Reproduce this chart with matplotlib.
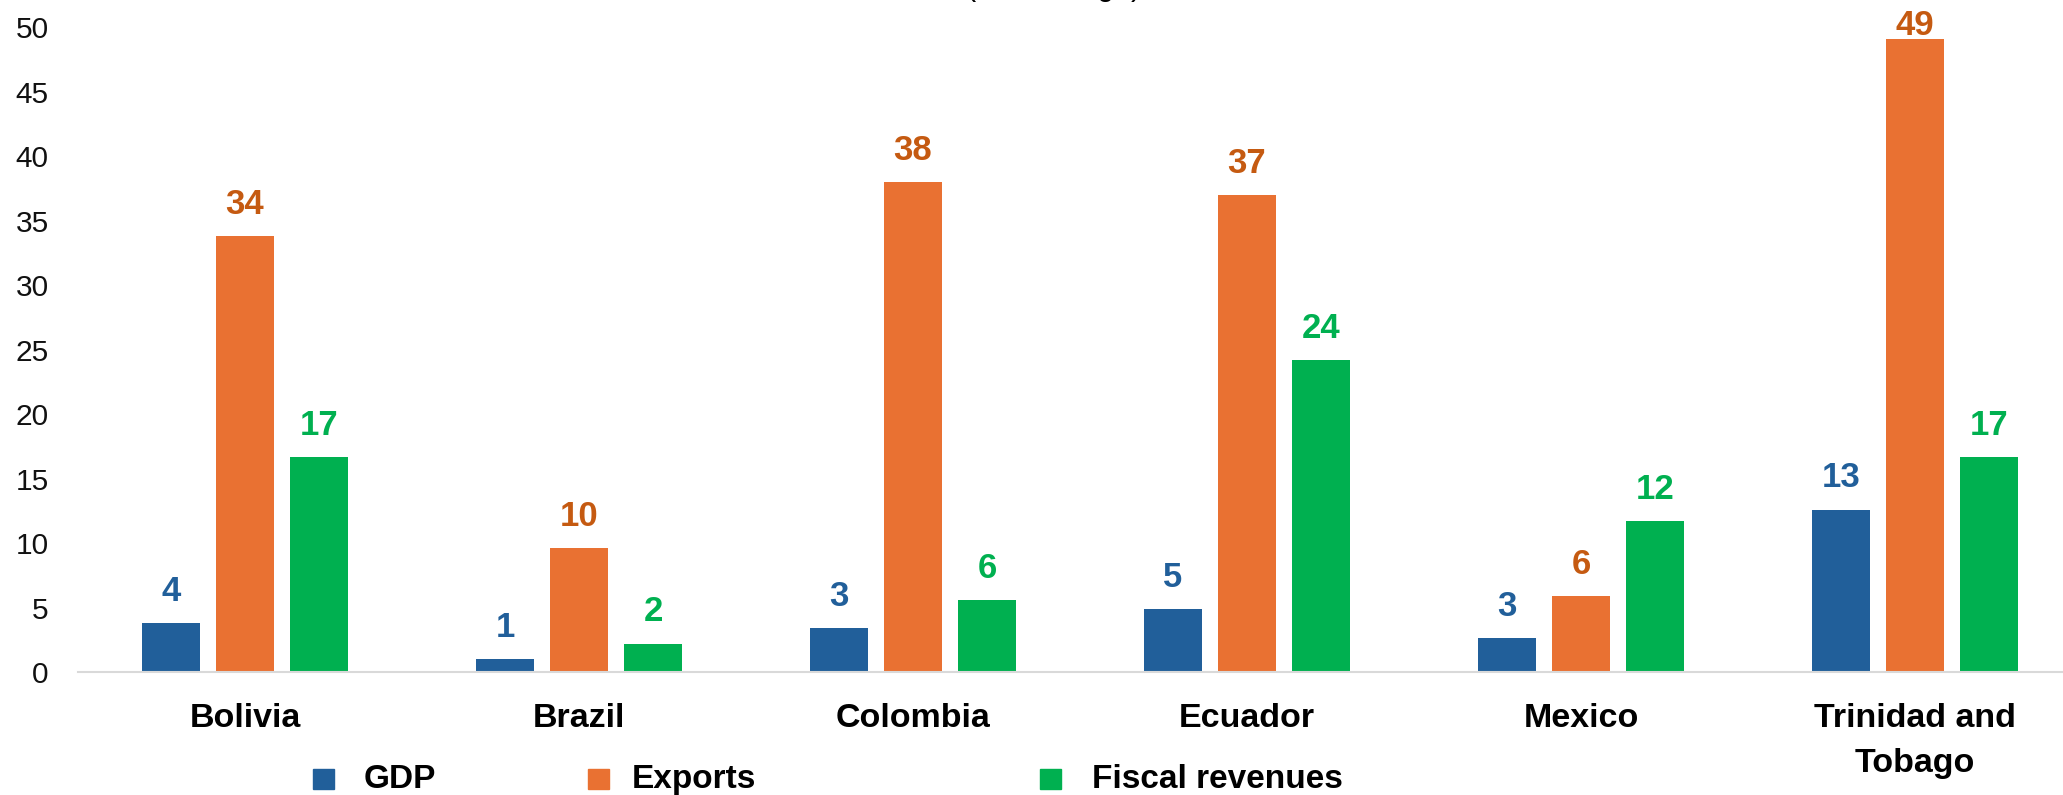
import matplotlib
matplotlib.use("Agg")
import matplotlib.pyplot as plt
import numpy as np
from matplotlib.patches import Rectangle

categories = ["Bolivia", "Brazil", "Colombia", "Ecuador", "Mexico", "Trinidad and\nTobago"]
series_names = ["GDP", "Exports", "Fiscal revenues"]
gdp = [3.8, 1.0, 3.4, 4.9, 2.6, 12.6]
exports = [33.8, 9.6, 38.0, 37.0, 5.9, 49.1]
fiscal = [16.7, 2.2, 5.6, 24.2, 11.7, 16.7]
yticks = [0, 5, 10, 15, 20, 25, 30, 35, 40, 45, 50]
title = "(Percentage)"

bar_colors = ["#215F9A", "#E97132", "#00B050"]
label_colors = ["#215F9A", "#C55A11", "#00B050"]

plt.rcParams['font.family'] = ['Liberation Sans', 'DejaVu Sans']

W, H = 2063, 795
fig = plt.figure(figsize=(W / 100, H / 100), dpi=100)
ax_bottom_px, ax_top_px = 672, 27.5
ax = fig.add_axes([78 / W, (H - ax_bottom_px) / H, 2004 / W, (ax_bottom_px - ax_top_px) / H])
ax.set_xlim(-0.5, len(categories) - 0.5)
ax.set_ylim(0, 50)
px_per_unit = (ax_bottom_px - ax_top_px) / 50.0
max_label_base = 49.45  # keep labels inside the picture (Excel-style clamping)

x = np.arange(len(categories))
width = 0.174
step = 0.2216
for i, (vals, c, lc) in enumerate(zip([gdp, exports, fiscal], bar_colors, label_colors)):
    xs = x + (i - 1) * step
    ax.bar(xs, vals, width=width, color=c, zorder=2)
    for xi, v in zip(xs, vals):
        off = min(16.0, (max_label_base - v) * px_per_unit * 72 / 100)
        ax.annotate(f"{v:.0f}", (xi, v), xytext=(0, off), textcoords="offset points",
                    ha="center", va="baseline", fontsize=25, fontweight="bold",
                    color=lc, annotation_clip=False)

ax.set_yticks(yticks)
ax.set_yticklabels([str(t) for t in yticks], fontsize=21.5, color="#111111")
ax.set_xticks(x)
ax.set_xticklabels(categories, fontsize=24.5, fontweight="bold", linespacing=1.6)
ax.tick_params(axis="y", length=0, pad=21)
ax.tick_params(axis="x", length=0, pad=22)
for s in ["top", "right", "left"]:
    ax.spines[s].set_visible(False)
ax.spines["bottom"].set_color("#D9D9D9")
ax.spines["bottom"].set_linewidth(1.5)

# legend (manual placement)
marker_x = [313, 588, 1040]
text_x = [364, 632, 1092]
for name, c, mx, tx in zip(series_names, bar_colors, marker_x, text_x):
    fig.patches.append(Rectangle((mx / W, (H - 789) / H), 21 / W, 20 / H,
                                 transform=fig.transFigure, color=c, figure=fig))
    fig.text(tx / W, (H - 788) / H, name, fontsize=24, fontweight="bold",
             va="baseline", ha="left", color="black")

fig.text(1053 / W, 1 + 5 / H, title, fontsize=22, ha="center", va="baseline", color="black")

fig.savefig("out.png", dpi=100)
